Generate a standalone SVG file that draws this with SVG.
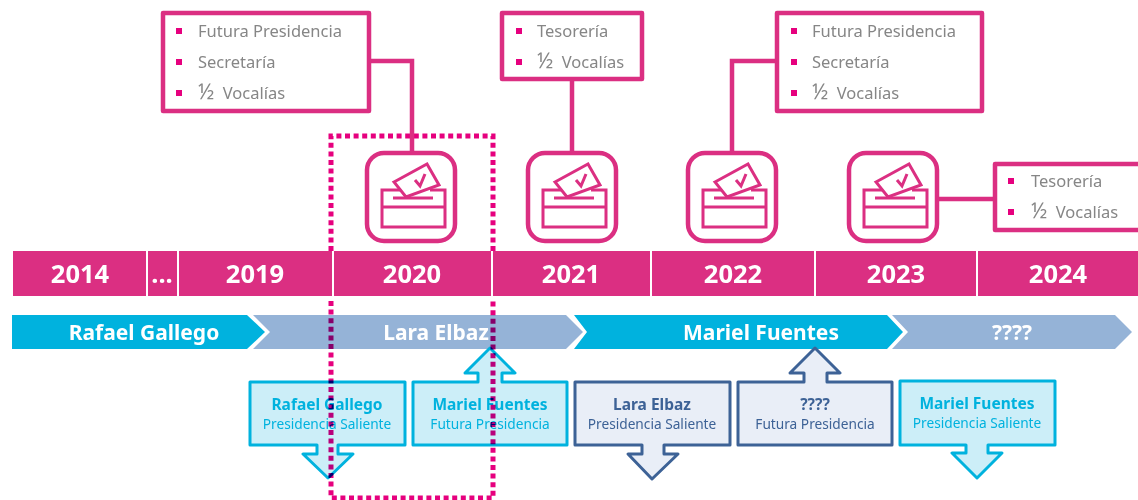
<svg xmlns="http://www.w3.org/2000/svg" width="1138" height="500" viewBox="0 0 1138 500">
<style>
text{font-family:"Noto Sans","Liberation Sans",sans-serif}
.list{fill:#fff;stroke:#DB2F82;stroke-width:4.5;stroke-linejoin:round}
.conn{fill:none;stroke:#DB2F82;stroke-width:4.5}
.li{font-size:16.5px;fill:#868686}
.half{font-size:21px;word-spacing:3px}
.bu{fill:#E6007E}
.yr{font-size:25.5px;font-weight:700;fill:#fff;text-anchor:middle}
.bar{fill:#DB2F82}
.ch{font-size:21px;font-weight:700;fill:#fff;text-anchor:middle}
.cy{fill:#00B2DE}.gb{fill:#95B3D7}
.cb{fill:#CCEEF8;stroke:#00B2DE;stroke-width:3;stroke-linejoin:round}
.db{fill:#E9EEF7;stroke:#3D6296;stroke-width:3;stroke-linejoin:round}
.t1{font-size:15.5px;font-weight:700;text-anchor:middle}
.t2{font-size:13.7px;text-anchor:middle}
.tc{fill:#00B2DE}.td{fill:#3D6296}
.ic{fill:none;stroke:#DB2F82;stroke-width:3}
.dots{fill:none;stroke:#E6007E;stroke-width:5;stroke-dasharray:5 3.6;mix-blend-mode:multiply}
</style>
<defs>
<g id="ballot">
<rect x="-44" y="2" width="88" height="88" rx="17" fill="#fff" stroke="#DB2F82" stroke-width="4.5"/>
<path class="ic" d="M-11 39H-29V76H34V39H19M-29 56H34M-18 47H22"/>
<path class="ic" d="M-17 31L16 13L28 34L-5 46Z"/>
<path class="ic" d="M4 29L9 35L14 23"/>
</g>
</defs>

<path class="dots" d="M331 251V136H493V251"/>

<g id="connectors">
<path class="conn" d="M370 61H412V151"/>
<path class="conn" d="M572 80V151"/>
<path class="conn" d="M775 61H732V151"/>
<path class="conn" d="M939 199H993"/>
</g>

<g id="list-2020">
<rect class="list" x="163" y="13" width="206" height="98"/>
<rect class="bu" x="176" y="28" width="6" height="6"/><text class="li" x="198" y="37">Futura Presidencia</text>
<rect class="bu" x="176" y="59" width="6" height="6"/><text class="li" x="198" y="68">Secretaría</text>
<rect class="bu" x="176" y="90" width="6" height="6"/><text class="li" x="198" y="99"><tspan class="half">½ </tspan>Vocalías</text>
</g>
<g id="list-2021">
<rect class="list" x="502" y="13" width="140" height="66"/>
<rect class="bu" x="516" y="28" width="6" height="6"/><text class="li" x="537" y="37">Tesorería</text>
<rect class="bu" x="516" y="59" width="6" height="6"/><text class="li" x="537" y="68"><tspan class="half">½ </tspan>Vocalías</text>
</g>
<g id="list-2022">
<rect class="list" x="777" y="13" width="205" height="98"/>
<rect class="bu" x="791" y="28" width="6" height="6"/><text class="li" x="812" y="37">Futura Presidencia</text>
<rect class="bu" x="791" y="59" width="6" height="6"/><text class="li" x="812" y="68">Secretaría</text>
<rect class="bu" x="791" y="90" width="6" height="6"/><text class="li" x="812" y="99"><tspan class="half">½ </tspan>Vocalías</text>
</g>
<g id="list-2023">
<rect class="list" x="995" y="164" width="150" height="66"/>
<rect class="bu" x="1008" y="178" width="6" height="6"/><text class="li" x="1031" y="187">Tesorería</text>
<rect class="bu" x="1008" y="209" width="6" height="6"/><text class="li" x="1031" y="218"><tspan class="half">½ </tspan>Vocalías</text>
</g>

<g id="ballot-2020"><use href="#ballot" x="411" y="151"/></g>
<g id="ballot-2021"><use href="#ballot" x="572" y="151"/></g>
<g id="ballot-2022"><use href="#ballot" x="732" y="151"/></g>
<g id="ballot-2023"><use href="#ballot" x="893" y="151"/></g>

<g id="year-bar">
<rect class="bar" x="13" y="251" width="133" height="45"/><text class="yr" x="80" y="283">2014</text>
<rect class="bar" x="148" y="251" width="29" height="45"/><text class="yr" x="162" y="283">...</text>
<rect class="bar" x="179" y="251" width="153" height="45"/><text class="yr" x="255" y="283">2019</text>
<rect class="bar" x="334" y="251" width="157" height="45"/><text class="yr" x="412" y="283">2020</text>
<rect class="bar" x="493" y="251" width="157" height="45"/><text class="yr" x="571" y="283">2021</text>
<rect class="bar" x="652" y="251" width="162" height="45"/><text class="yr" x="733" y="283">2022</text>
<rect class="bar" x="816" y="251" width="160" height="45"/><text class="yr" x="896" y="283">2023</text>
<rect class="bar" x="978" y="251" width="160" height="45"/><text class="yr" x="1058" y="283">2024</text>
</g>

<g id="chevron-rafael"><path class="cy" d="M12 315H247L265 332L247 349H12Z"/><text class="ch" x="144" y="340">Rafael Gallego</text></g>
<g id="chevron-lara"><path class="gb" d="M253 315H566L583 332L566 349H253L270 332Z"/><text class="ch" x="436" y="340">Lara Elbaz</text></g>
<g id="chevron-mariel"><path class="cy" d="M574 315H887L903 332L887 349H574L587 332Z"/><text class="ch" x="761" y="340">Mariel Fuentes</text></g>
<g id="chevron-unknown"><path class="gb" d="M892 315H1115L1132 332L1115 349H892L908 332Z"/><text class="ch" x="1012" y="340">????</text></g>

<g id="callout-rafael"><path class="cb" d="M250 382H405V445H338V454H353L328 478L303 454H317V445H250Z"/><text class="t1 tc" x="327" y="410">Rafael Gallego</text><text class="t2 tc" x="327" y="429">Presidencia Saliente</text></g>
<g id="callout-mariel"><path class="cb" d="M413 382H478V373H465L490 348L515 373H502V382H567V445H413Z"/><text class="t1 tc" x="490" y="410">Mariel Fuentes</text><text class="t2 tc" x="490" y="429">Futura Presidencia</text></g>
<g id="callout-lara"><path class="db" d="M575 382H730V445H664V454H678L652 479L628 454H642V445H575Z"/><text class="t1 td" x="652" y="410">Lara Elbaz</text><text class="t2 td" x="652" y="429">Presidencia Saliente</text></g>
<g id="callout-unknown"><path class="db" d="M738 382H804V373H790L815 348L840 373H827V382H892V445H738Z"/><text class="t1 td" x="815" y="410">????</text><text class="t2 td" x="815" y="429">Futura Presidencia</text></g>
<g id="callout-mariel2"><path class="cb" d="M900 381H1055V445H988V453H1002L977 478L952 453H966V445H900Z"/><text class="t1 tc" x="977" y="409">Mariel Fuentes</text><text class="t2 tc" x="977" y="428">Presidencia Saliente</text></g>

<path class="dots" d="M331 301V498H493V301"/>
</svg>
